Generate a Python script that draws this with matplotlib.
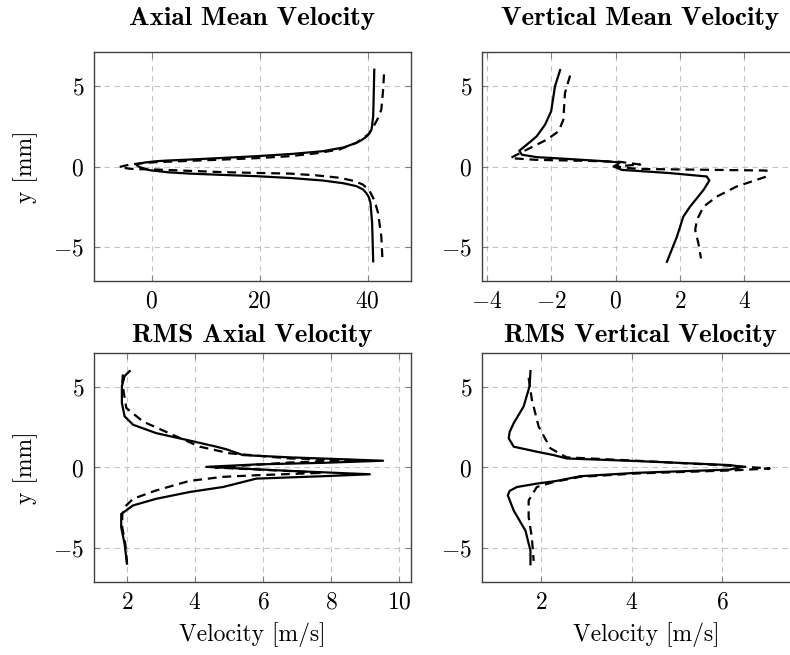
import matplotlib
matplotlib.use('Agg')
import matplotlib.pyplot as plt

plt.rcParams['font.family'] = 'cmr10'
plt.rcParams['mathtext.fontset'] = 'cm'
plt.rcParams['axes.formatter.use_mathtext'] = True

# Axial mean velocity
am_solid_x = [41.2, 41.1, 41.0, 40.7, 40.3, 39.7, 38.9, 37.9, 35.5, 31.7, 26.0, 19.4, 13.0,
              7.0, 3.0, 0.9, -1.2, -2.5, -2.8, -2.2, -0.4, 3.0, 7.0, 13.0, 19.4, 26.0, 31.7,
              35.5, 37.9, 39.1, 39.7, 40.2, 40.5, 40.8, 41.0]
am_solid_y = [6.0, 4.5, 3.12, 2.3, 2.05, 1.84, 1.65, 1.47, 1.18, 0.95, 0.78, 0.64, 0.53,
              0.43, 0.37, 0.33, 0.25, 0.17, 0.08, -0.04, -0.23, -0.36, -0.44, -0.52, -0.6,
              -0.72, -0.87, -1.04, -1.22, -1.42, -1.64, -1.9, -2.26, -3.5, -5.88]
am_dash_x = [43.0, 42.8, 42.5, 42.1, 41.6, 40.9, 40.1, 37.9, 34.8, 30.5, 25.6, 19.5, 13.2,
             7.0, 0.9, -2.0, -4.1, -6.0, -4.1, -2.0, 0.9, 7.0, 13.2, 19.5, 25.6, 30.5, 34.8,
             37.5, 39.1, 40.3, 41.0, 41.5, 41.9, 42.5, 42.7]
am_dash_y = [5.71, 4.6, 3.54, 3.15, 2.81, 2.4, 1.99, 1.47, 1.06, 0.82, 0.64, 0.52, 0.43,
             0.35, 0.27, 0.2, 0.12, -0.03, -0.14, -0.17, -0.19, -0.27, -0.35, -0.4, -0.44,
             -0.55, -0.7, -0.9, -1.12, -1.5, -1.95, -2.4, -2.88, -4.33, -5.67]

# Vertical mean velocity
vm_solid_x = [-1.73, -1.89, -2.01, -2.2, -2.46, -2.77, -3.0, -2.92, -2.46, -1.42, -0.38, 0.13,
              0.03, -0.07, 0.08, 0.19, 1.69, 2.83, 2.91, 2.73, 2.31, 2.1, 1.9, 1.59]
vm_solid_y = [5.98, 4.98, 3.42, 2.59, 1.87, 1.35, 0.98, 0.73, 0.58, 0.46, 0.33, 0.25,
              0.10, 0.0, -0.12, -0.21, -0.41, -0.62, -0.87, -1.45, -2.49, -3.11, -4.36, -5.91]
vm_dash_x = [-1.42, -1.58, -1.63, -1.78, -2.15, -2.77, -3.28, -2.46, -0.9, 0.13, 0.76, 0.34,
             0.0, 0.65, 4.69, 4.69, 3.76, 3.14, 2.73, 2.52, 2.47, 2.57, 2.65]
vm_dash_y = [5.64, 4.56, 2.9, 2.18, 1.66, 1.04, 0.52, 0.41, 0.35, 0.29, 0.12, 0.06,
             0.0, -0.15, -0.25, -0.62, -1.24, -1.87, -2.49, -3.32, -3.94, -4.77, -5.7]

# RMS axial velocity
ra_solid_x = [2.08, 1.93, 1.85, 1.85, 1.93, 2.18, 2.86, 3.84, 4.63, 4.92, 5.41, 6.78, 9.53,
              7.76, 5.8, 4.33, 5.31, 6.78, 9.14, 7.76, 5.8, 5.22, 4.82, 3.84, 2.86, 2.18,
              1.83, 1.83, 1.93, 2.0]
ra_solid_y = [5.98, 5.67, 5.04, 4.0, 3.17, 2.65, 2.13, 1.67, 1.29, 1.13, 0.77, 0.63, 0.42,
              0.29, 0.19, 0.04, -0.06, -0.21, -0.42, -0.54, -0.69, -1.0, -1.21, -1.52, -1.94,
              -2.35, -2.88, -3.71, -4.75, -5.96]
ra_dash_x = [1.88, 1.86, 1.98, 2.47, 3.35, 4.14, 5.02, 6.78, 8.75, 6.78, 4.6, 6.78, 7.76,
             5.8, 4.82, 3.84, 2.86, 2.18, 1.98, 1.86, 1.86, 1.95, 2.0]
ra_dash_y = [5.77, 5.25, 3.69, 2.85, 2.02, 1.29, 0.88, 0.56, 0.46, 0.31, 0.0, -0.22, -0.33,
             -0.48, -0.58, -0.83, -1.42, -1.94, -2.35, -2.9, -3.7, -4.75, -5.9]

# RMS vertical velocity
rv_solid_x = [1.77, 1.75, 1.62, 1.4, 1.31, 1.29, 1.4, 1.91, 2.28, 2.57, 4.11, 6.17, 6.46, 6.17,
              4.11, 2.87, 2.35, 1.91, 1.47, 1.31, 1.27, 1.4, 1.66, 1.77, 1.77]
rv_solid_y = [5.98, 5.04, 3.79, 2.75, 2.2, 1.81, 1.29, 0.98, 0.77, 0.56, 0.4, 0.15, 0.04, -0.13,
              -0.33, -0.54, -0.83, -1.0, -1.21, -1.45, -1.73, -2.67, -3.92, -5.17, -6.0]
rv_dash_x = [1.73, 1.8, 1.95, 2.21, 2.57, 4.11, 5.95, 7.05, 6.32, 4.11, 2.87, 2.28, 1.91,
             1.73, 1.73, 1.8, 1.84]
rv_dash_y = [5.56, 4.21, 2.54, 1.19, 0.63, 0.42, 0.15, -0.06, -0.17, -0.37, -0.58, -0.9,
             -1.21, -2.04, -3.08, -4.33, -5.79]

titles = ['Axial Mean Velocity', 'Vertical Mean Velocity',
          'RMS Axial Velocity', 'RMS Vertical Velocity']
series = [(am_solid_x, am_solid_y, am_dash_x, am_dash_y),
          (vm_solid_x, vm_solid_y, vm_dash_x, vm_dash_y),
          (ra_solid_x, ra_solid_y, ra_dash_x, ra_dash_y),
          (rv_solid_x, rv_solid_y, rv_dash_x, rv_dash_y)]
xlims = [(-10.7, 48), (-4.16, 6.04), (1.03, 10.35), (0.7, 7.94)]
xticks = [[0, 20, 40], [-4, -2, 0, 2, 4], [2, 4, 6, 8, 10], [2, 4, 6]]

W, H = 790, 655
fig = plt.figure(figsize=(W / 100, H / 100), dpi=100)
lefts = [94, 482, 94, 482]
widths = [317, 328, 317, 328]
tops = [52, 52, 353, 353]
title_base = [25, 25, 342, 342]
title_cx = [252, 640, 252, 640]
ah = 229

for i in range(4):
    ax = fig.add_axes([lefts[i] / W, 1 - (tops[i] + ah) / H, widths[i] / W, ah / H])
    sx, sy, dx, dy = series[i]
    ax.plot(sx, sy, color='black', lw=1.6, zorder=3)
    ax.plot(dx, dy, color='black', lw=1.6, dashes=(4, 2.6), zorder=3)
    ax.set_xlim(*xlims[i])
    ax.set_ylim(-7.1, 7.1)
    ax.set_xticks(xticks[i])
    ax.set_yticks([-5, 0, 5])
    ax.grid(True, color='#c4c4c4', lw=0.8, dashes=(5, 4))
    ax.set_axisbelow(True)
    ax.tick_params(direction='in', length=4, width=0.8, color='#808080',
                   top=True, right=True, labelsize=17, pad=7)
    for sp in ax.spines.values():
        sp.set_color('#404040')
        sp.set_linewidth(1.0)
    if i % 2 == 0:
        ax.set_ylabel('y [mm]', fontsize=17, labelpad=11)
    if i >= 2:
        ax.set_xlabel('Velocity [m/s]', fontsize=17, labelpad=6)
    fig.text(title_cx[i] / W, 1 - title_base[i] / H, titles[i],
             ha='center', va='baseline', family='cmb10', fontsize=19.5)

fig.savefig('out.png', dpi=100)
